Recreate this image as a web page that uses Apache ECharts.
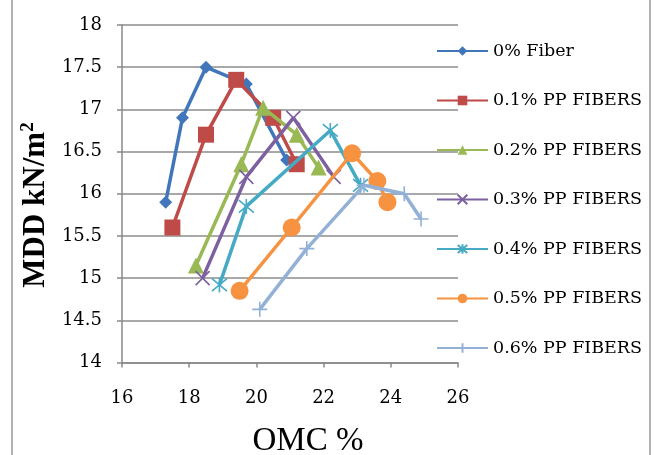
<!DOCTYPE html>
<html>
<head>
<meta charset="utf-8">
<script src="https://cdn.jsdelivr.net/npm/echarts@6/dist/echarts.min.js"></script>
<style>html,body{margin:0;padding:0;background:#fff}#c{width:657px;height:455px}</style>
</head>
<body>
<div id="c"></div>
<script>
const seriesNames = ['0% Fiber', '0.1% PP FIBERS', '0.2% PP FIBERS', '0.3% PP FIBERS', '0.4% PP FIBERS', '0.5% PP FIBERS', '0.6% PP FIBERS'];
const omc0 = [17.3, 17.8, 18.5, 19.7, 20.9];
const mdd0 = [15.9, 16.9, 17.5, 17.3, 16.4];
const omc1 = [17.5, 18.5, 19.4, 20.5, 21.2];
const mdd1 = [15.6, 16.7, 17.35, 16.9, 16.35];
const omc2 = [18.2, 19.55, 20.2, 21.2, 21.85];
const mdd2 = [15.15, 16.35, 17.02, 16.7, 16.31];
const omc3 = [18.4, 19.7, 21.1, 22.3];
const mdd3 = [15.0, 16.2, 16.9, 16.2];
const omc4 = [18.9, 19.7, 22.2, 23.1];
const mdd4 = [14.92, 15.85, 16.75, 16.1];
const omc5 = [19.5, 21.05, 22.85, 23.6, 23.9];
const mdd5 = [14.85, 15.6, 16.48, 16.15, 15.9];
const omc6 = [20.1, 21.5, 23.2, 24.4, 24.9];
const mdd6 = [14.63, 15.35, 16.1, 16.0, 15.7];
const xTicks = [16, 18, 20, 22, 24, 26];
const yTicks = [14, 14.5, 15, 15.5, 16, 16.5, 17, 17.5, 18];

const omcs = [omc0, omc1, omc2, omc3, omc4, omc5, omc6];
const mdds = [mdd0, mdd1, mdd2, mdd3, mdd4, mdd5, mdd6];
const colors = ['#4177BA', '#BE4B48', '#98B954', '#7D60A0', '#46AAC5', '#F69240', '#93B1D6'];
const symbols = ['diamond', 'rect', 'triangle',
  'path://M0,0L10,10M10,0L0,10',
  'path://M0,0L10,10M10,0L0,10M5,-1L5,11',
  'circle',
  'path://M5,0L5,10M0,5L10,5'];
const sizes = [13, 16, 16, 14, 15, 18, 15];
const strokeSym = [false, false, false, true, true, false, true];

const series = seriesNames.map((n, i) => ({
  name: n,
  type: 'line',
  data: omcs[i].map((x, j) => [x, mdds[i][j]]),
  symbol: symbols[i],
  symbolSize: sizes[i],
  showAllSymbol: true,
  lineStyle: { color: colors[i], width: 3.5 },
  itemStyle: strokeSym[i]
    ? { color: colors[i], borderColor: colors[i], borderWidth: 1.6 }
    : { color: colors[i], borderWidth: 0 },
  emphasis: { disabled: true },
  animation: false,
  z: 2 + i
}));

const chart = echarts.init(document.getElementById('c'));
chart.setOption({
  backgroundColor: '#fff',
  animation: false,
  grid: { left: 122, right: 199, top: 25, bottom: 92.5, containLabel: false },
  xAxis: {
    type: 'value', min: xTicks[0], max: xTicks[xTicks.length - 1], interval: 2,
    axisLine: { show: true, lineStyle: { color: '#888', width: 1.5 } },
    axisTick: { show: true, inside: false, length: 5, lineStyle: { color: '#888', width: 1.5 } },
    splitLine: { show: false },
    axisLabel: { margin: 27, color: '#000', fontFamily: 'DejaVu Serif', fontSize: 18 }
  },
  yAxis: {
    type: 'value', min: yTicks[0], max: yTicks[yTicks.length - 1], interval: 0.5,
    axisLine: { show: true, lineStyle: { color: '#888', width: 1.5 } },
    axisTick: { show: true, inside: false, length: 5, lineStyle: { color: '#888', width: 1.5 } },
    splitLine: { show: true, lineStyle: { color: '#8c8c8c', width: 1.5 } },
    axisLabel: { margin: 20, color: '#000', fontFamily: 'DejaVu Serif', fontSize: 18 }
  },
  legend: {
    orient: 'vertical', left: 431, top: 37,
    itemWidth: 51, itemHeight: 12, itemGap: 31.5,
    textStyle: { fontFamily: 'DejaVu Serif', fontSize: 17.5, color: '#000', lineHeight: 16 },
    data: seriesNames
  },
  graphic: [
    { type: 'rect', shape: { x: 12, y: -5, width: 638, height: 470 }, style: { fill: 'none', stroke: '#999', lineWidth: 1.5 }, silent: true, z: -1 },
    { type: 'text', x: 308, y: 441, style: { text: 'OMC %', fontFamily: 'Liberation Serif', fontSize: 33, fill: '#000', align: 'center', verticalAlign: 'middle' } },
    { type: 'text', x: 36, y: 205, rotation: Math.PI / 2,
      style: { text: 'MDD kN/m{s|2}', fontFamily: 'Liberation Serif', fontWeight: 'bold', fontSize: 31, fill: '#000', align: 'center', verticalAlign: 'middle',
        rich: { s: { fontFamily: 'Liberation Serif', fontWeight: 'bold', fontSize: 19, verticalAlign: 'top', fill: '#000', padding: [0, 0, 15, 0] } } } }
  ],
  series: series
});
</script>
</body>
</html>
